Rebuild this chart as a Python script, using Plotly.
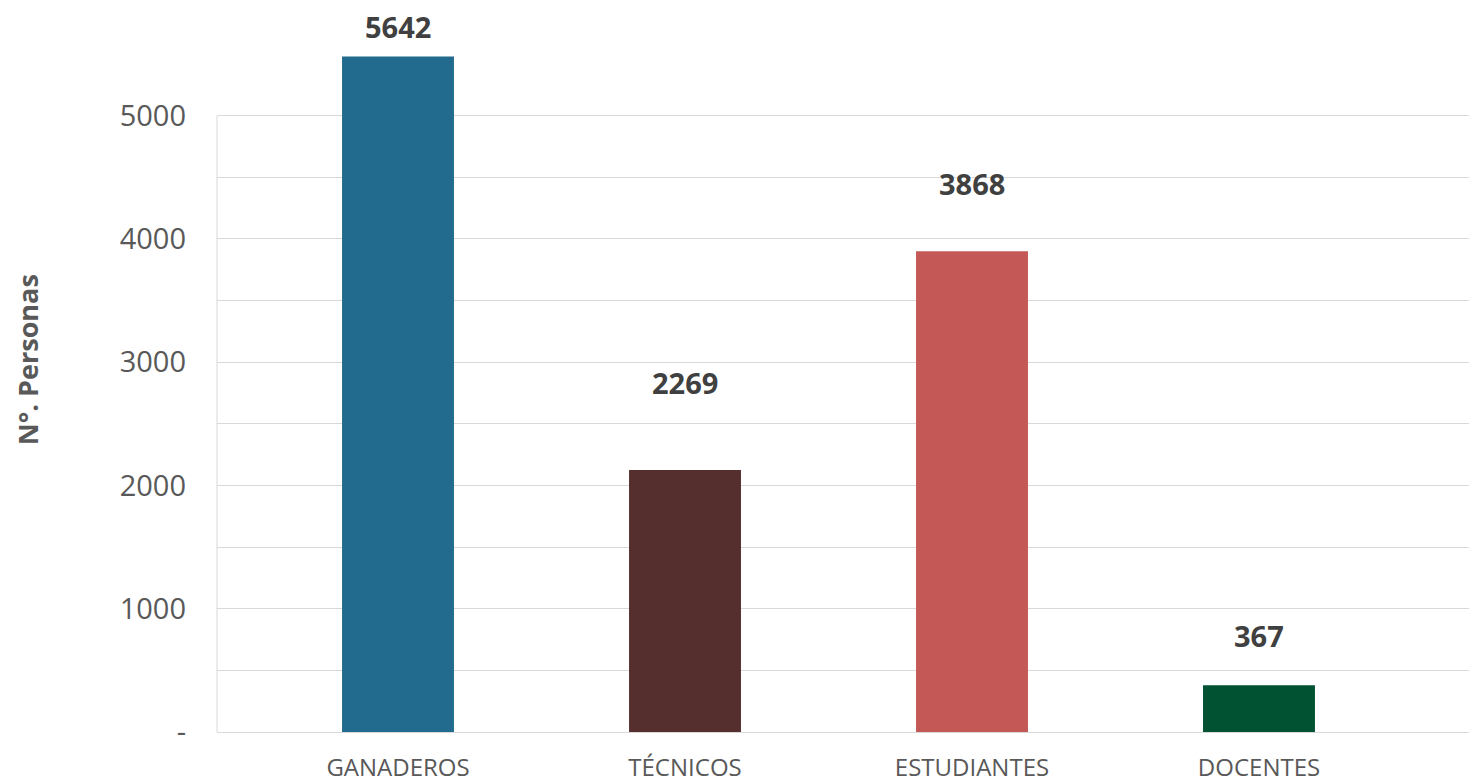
import plotly.graph_objects as go

# Data
categories = ["GANADEROS", "TÉCNICOS", "ESTUDIANTES", "DOCENTES"]
bar_heights = [5480, 2125, 3900, 380]          # heights as drawn in the picture
label_texts = ["5642", "2269", "3868", "367"]   # printed data labels
bar_colors = ["#236b8e", "#552e2e", "#c45856", "#005233"]
label_offsets_px = [30, 88, 68, 50]             # label centre above bar top (px)

y_tick_vals = [0, 500, 1000, 1500, 2000, 2500, 3000, 3500, 4000, 4500, 5000]
y_tick_text = ["-", "", "1000", "", "2000", "", "3000", "", "4000", "", "5000"]

FONT = "Open Sans"
AXIS_TXT = "#595959"
LABEL_TXT = "#404040"
GRID = "#d9d9d9"

fig = go.Figure()
fig.add_trace(go.Bar(
    x=list(range(len(categories))),
    y=bar_heights,
    marker=dict(color=bar_colors, line=dict(width=0)),
    width=0.39,
    hoverinfo="skip",
    cliponaxis=False,
))

for i, (h, t, off) in enumerate(zip(bar_heights, label_texts, label_offsets_px)):
    fig.add_annotation(
        x=i, y=h, xref="x", yref="y", text=f"<b>{t}</b>",
        showarrow=False, yanchor="middle", yshift=off,
        font=dict(family=FONT, size=29, color=LABEL_TXT),
    )

fig.add_annotation(
    x=0, xref="paper", xshift=-190, xanchor="center",
    y=0.515, yref="paper", yanchor="middle",
    text="<b>N°. Personas</b>", textangle=-90, showarrow=False,
    font=dict(family=FONT, size=27, color=AXIS_TXT),
)

# vertical axis line runs only up to the top gridline
fig.add_shape(
    type="line", xref="paper", yref="y",
    x0=0, x1=0, y0=y_tick_vals[0], y1=y_tick_vals[-1],
    line=dict(color=GRID, width=1), layer="below",
)

# page body has an 8px default margin, so the figure is 8px smaller
fig.update_layout(
    width=1469, height=772,
    margin=dict(l=209, r=0, t=2, b=48, autoexpand=False),
    paper_bgcolor="white", plot_bgcolor="white",
    showlegend=False,
    font=dict(family=FONT, color=AXIS_TXT),
    xaxis=dict(
        range=[-0.6307, 3.7596],
        tickvals=list(range(len(categories))),
        ticktext=categories,
        tickfont=dict(family=FONT, size=24, color=AXIS_TXT),
        showgrid=False, zeroline=False,
        showline=True, linecolor=GRID, linewidth=1,
        ticks="", ticklabelstandoff=14, automargin=False,
    ),
    yaxis=dict(
        range=[0, 5857],
        tickvals=y_tick_vals,
        ticktext=y_tick_text,
        tickfont=dict(family=FONT, size=29, color=AXIS_TXT),
        showgrid=True, gridcolor=GRID, gridwidth=1,
        zeroline=False,
        showline=False,
        ticks="", ticklabelstandoff=30, automargin=False,
    ),
)

fig.write_html("out.html")
